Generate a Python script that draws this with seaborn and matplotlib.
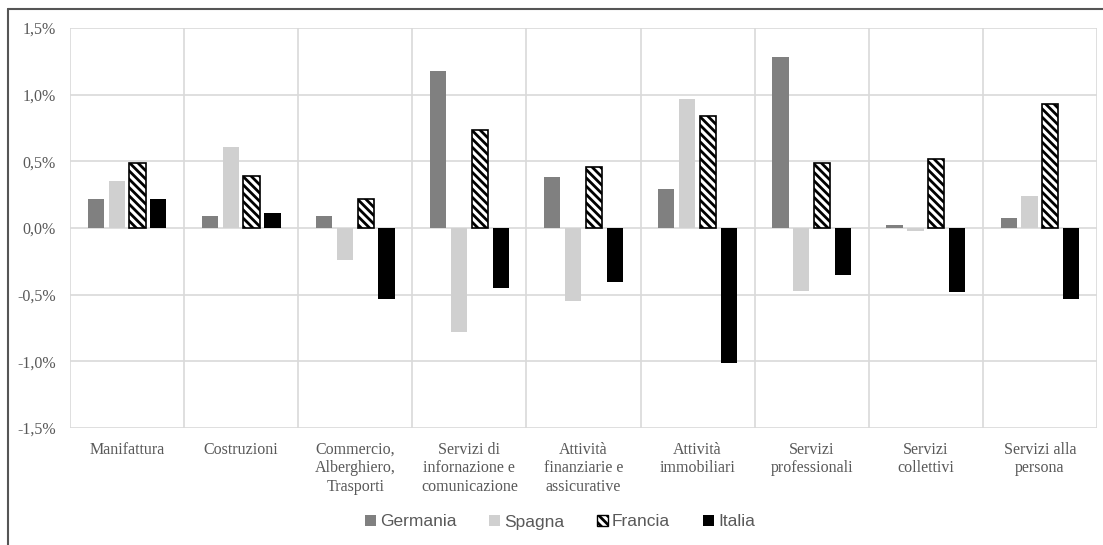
import matplotlib
matplotlib.use("Agg")
import matplotlib.pyplot as plt
from matplotlib.patches import Patch
from matplotlib.lines import Line2D
from matplotlib.ticker import FuncFormatter, FixedLocator
import seaborn as sns
import pandas as pd

# Sector labels (x axis)
settori = [
    "Manifattura",
    "Costruzioni",
    "Commercio,\nAlberghiero,\nTrasporti",
    "Servizi di\ninfornazione e\ncomunicazione",
    "Attività\nfinanziarie e\nassicurative",
    "Attività\nimmobiliari",
    "Servizi\nprofessionali",
    "Servizi\ncollettivi",
    "Servizi alla\npersona",
]

paesi = ["Germania", "Spagna", "Francia", "Italia"]

# Contribution by sector, in percent
germania = [0.215, 0.09, 0.09, 1.18, 0.38, 0.29, 1.28, 0.02, 0.073]
spagna = [0.35, 0.605, -0.24, -0.78, -0.55, 0.97, -0.475, -0.025, 0.238]
francia = [0.49, 0.39, 0.215, 0.735, 0.455, 0.84, 0.485, 0.52, 0.93]
italia = [0.215, 0.11, -0.53, -0.45, -0.405, -1.01, -0.35, -0.48, -0.535]

y_ticks = [-1.5, -1.0, -0.5, 0.0, 0.5, 1.0, 1.5]

serie = {"Germania": germania, "Spagna": spagna, "Francia": francia, "Italia": italia}
df = pd.DataFrame(
    [(s, p, v) for p in paesi for s, v in zip(settori, serie[p])],
    columns=["settore", "paese", "valore"],
)

sns.set_style("white")
plt.rcParams["hatch.linewidth"] = 2.0
plt.rcParams["hatch.color"] = "black"

colori = {"Germania": "#808080", "Spagna": "#d0d0d0", "Francia": "white", "Italia": "black"}
testo = "#595959"
griglia = "#d9d9d9"

fig = plt.figure(figsize=(11.03, 5.45), dpi=100)
ax = fig.add_axes([70 / 1103, 1 - 428 / 545, (1097 - 70) / 1103, 400 / 545])

sns.barplot(
    data=df, x="settore", y="valore", hue="paese", hue_order=paesi,
    order=settori, palette=colori, width=0.73, gap=0.22,
    saturation=1, legend=False, ax=ax, zorder=3,
)

# Francia bars: white with black diagonal hatching and black outline
for cont, paese in zip(ax.containers, paesi):
    for bar in cont:
        if paese == "Francia":
            bar.set_hatch("\\\\\\\\")
            bar.set_edgecolor("black")
            bar.set_linewidth(1.2)
        else:
            bar.set_edgecolor("none")
            bar.set_linewidth(0)

ax.set_xlim(-0.5, len(settori) - 0.5)
ax.set_ylim(-1.5, 1.5)
ax.set_yticks(y_ticks)
ax.yaxis.set_major_formatter(FuncFormatter(lambda v, _: f"{v:.1f}%".replace(".", ",")))
ax.xaxis.set_minor_locator(FixedLocator([i - 0.5 for i in range(len(settori) + 1)]))

ax.grid(axis="y", which="major", color=griglia, linewidth=1.2, zorder=0)
ax.grid(axis="x", which="minor", color=griglia, linewidth=1.2, zorder=0)
ax.grid(axis="x", which="major", visible=False)
for sp in ax.spines.values():
    sp.set_visible(False)

ax.set_xlabel("")
ax.set_ylabel("")
ax.tick_params(axis="both", which="both", length=0)
ax.tick_params(axis="y", pad=10, labelcolor=testo)
ax.tick_params(axis="x", pad=10, labelcolor=testo)
for lab in ax.get_yticklabels():
    lab.set_fontfamily("Liberation Serif")
    lab.set_fontsize(11.5)
for lab in ax.get_xticklabels():
    lab.set_fontfamily("Liberation Serif")
    lab.set_fontsize(11.5)
    lab.set_linespacing(1.2)
    lab.set_verticalalignment("top")

handles = []
for paese in paesi:
    if paese == "Francia":
        handles.append(Patch(facecolor="white", edgecolor="black", hatch="\\\\\\\\", linewidth=1.0, label=paese))
    else:
        handles.append(Patch(facecolor=colori[paese], edgecolor="none", label=paese))
fig.legend(
    handles=handles, loc="center", bbox_to_anchor=(560 / 1103, 1 - 522 / 545),
    ncol=4, frameon=False, handlelength=0.6, handleheight=0.6,
    handletextpad=0.25, columnspacing=1.9,
    prop={"family": "Liberation Sans", "size": 12.5}, labelcolor=testo,
)

# Outer frame (top and left edges)
fig.add_artist(Line2D([8 / 1103, 1.0], [1 - 9 / 545, 1 - 9 / 545], color="#555555", linewidth=1.5, transform=fig.transFigure))
fig.add_artist(Line2D([8 / 1103, 8 / 1103], [0.0, 1 - 9 / 545], color="#555555", linewidth=1.5, transform=fig.transFigure))

fig.savefig("out.png", dpi=100)
